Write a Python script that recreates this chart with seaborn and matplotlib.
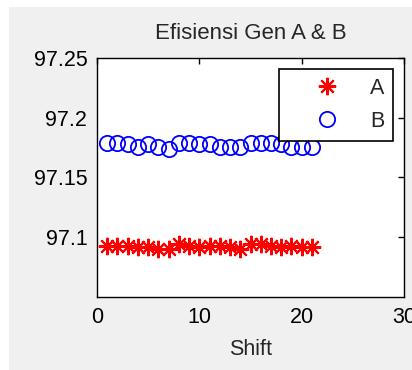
import numpy as np
import pandas as pd
import matplotlib
matplotlib.use("Agg")
import matplotlib.pyplot as plt
import seaborn as sns
from matplotlib.patches import Rectangle

# Data: shift number vs generator efficiency
shift = list(range(1, 22))
gen_a = [97.0927, 97.0927, 97.0927, 97.0916, 97.0916, 97.0902, 97.0902,
         97.0941, 97.0927, 97.0916, 97.0927, 97.0927, 97.0916, 97.0902,
         97.0941, 97.0941, 97.0927, 97.0916, 97.0927, 97.0916, 97.0916]
gen_b = [97.1791, 97.1791, 97.1778, 97.1758, 97.1778, 97.1758, 97.1739,
         97.1791, 97.1791, 97.1778, 97.1778, 97.1758, 97.1758, 97.1758,
         97.1791, 97.1791, 97.1791, 97.1778, 97.1758, 97.1758, 97.1758]
x_ticks = [0, 10, 20, 30]
y_ticks = [97.1, 97.15, 97.2, 97.25]

df = pd.DataFrame({'Shift': shift, 'A': gen_a, 'B': gen_b})

sns.set_style('white')
plt.rcParams['font.family'] = ['Liberation Sans', 'DejaVu Sans']

fig = plt.figure(figsize=(4.12, 3.70), dpi=100, facecolor='white')
# grey window background, leaving the thin white strip at left/top
fig.patches.append(Rectangle((9 / 412, 0), 1, 1 - 7 / 370, transform=fig.transFigure,
                             facecolor='#f0f0f0', edgecolor='none', zorder=-10))
ax = fig.add_axes([97 / 412, 1 - 297 / 370, 307 / 412, 239 / 370])
ax.set_facecolor('white')

sns.lineplot(data=df, x='Shift', y='A', ax=ax, linestyle='', marker=(8, 2, 0),
             markersize=12.5, markeredgewidth=1.5, markeredgecolor='red',
             color='red', label='A')
sns.lineplot(data=df, x='Shift', y='B', ax=ax, linestyle='', marker='o',
             markersize=11, markerfacecolor='none', markeredgecolor='blue',
             markeredgewidth=1.3, color='blue', label='B')

ax.set_xlim(0, 30)
ax.set_ylim(97.05, 97.25)
ax.set_xticks(x_ticks)
ax.set_yticks(y_ticks)
ax.set_yticklabels(['97.1', '97.15', '97.2', '97.25'])
ax.tick_params(direction='in', length=4, width=1, top=True, right=True,
               labelsize=15.5, colors='black', pad=7)
for s in ax.spines.values():
    s.set_color('black')
    s.set_linewidth(1)

ax.set_title('Efisiensi Gen A & B', fontsize=16, pad=14)
ax.set_xlabel('Shift', fontsize=15.5, labelpad=8)
ax.set_ylabel('')

leg = ax.legend(loc='upper right', fontsize=15.5, frameon=True, fancybox=False,
                handlelength=3.6, handletextpad=0.2, borderpad=0.42,
                labelspacing=0.55, borderaxespad=0.5)
leg.get_frame().set_edgecolor('black')
leg.get_frame().set_linewidth(1.2)
leg.get_frame().set_alpha(1)

fig.savefig('out.png', dpi=100, facecolor=fig.get_facecolor())
